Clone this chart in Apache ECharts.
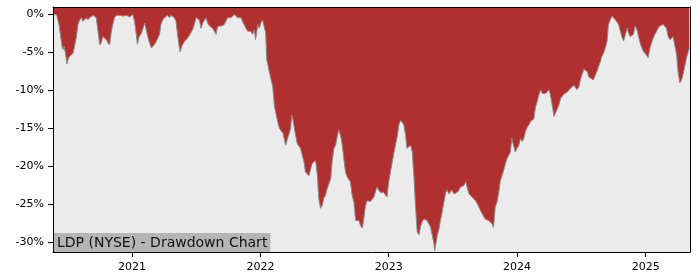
<!DOCTYPE html>
<html><head><meta charset="utf-8">
<script src="https://cdn.jsdelivr.net/npm/echarts@6/dist/echarts.min.js"></script>
<style>html,body{margin:0;padding:0;background:#fff}#c{width:700px;height:280px}</style>
</head><body><div id="c"></div>
<script>
const dates = [
"2020-05-23","2020-05-31","2020-06-04","2020-06-07","2020-06-11","2020-06-15","2020-06-18","2020-06-22","2020-06-26","2020-06-30",
"2020-07-04","2020-07-07","2020-07-11","2020-07-17","2020-07-22","2020-07-26","2020-07-31","2020-08-05","2020-08-10","2020-08-14",
"2020-08-19","2020-08-24","2020-08-28","2020-09-02","2020-09-07","2020-09-12","2020-09-16","2020-09-21","2020-09-26","2020-10-01",
"2020-10-05","2020-10-10","2020-10-15","2020-10-20","2020-10-24","2020-10-29","2020-11-03","2020-11-08","2020-11-12","2020-11-17",
"2020-11-27","2020-12-06","2020-12-16","2020-12-25","2020-12-30",
"2021-01-03","2021-01-08","2021-01-13","2021-01-16","2021-01-21","2021-01-28","2021-02-01","2021-02-06","2021-02-09","2021-02-12",
"2021-02-18","2021-02-25","2021-03-01","2021-03-09","2021-03-15","2021-03-20","2021-03-24","2021-03-29","2021-04-03","2021-04-07",
"2021-04-12","2021-04-17","2021-04-22","2021-04-26","2021-05-01","2021-05-06","2021-05-11","2021-05-15","2021-05-18","2021-05-22",
"2021-05-26","2021-05-30","2021-06-03","2021-06-08","2021-06-13","2021-06-17","2021-06-22","2021-06-27","2021-07-02","2021-07-06",
"2021-07-11","2021-07-16","2021-07-21","2021-07-26","2021-07-30","2021-08-04","2021-08-09","2021-08-13","2021-08-18","2021-08-23",
"2021-08-28","2021-08-30","2021-09-03","2021-09-08","2021-09-13","2021-09-20","2021-09-25","2021-09-30","2021-10-05","2021-10-09",
"2021-10-14","2021-10-19","2021-10-23","2021-10-28","2021-11-02","2021-11-07","2021-11-11","2021-11-16","2021-11-21","2021-11-26",
"2021-12-01","2021-12-05","2021-12-10","2021-12-15","2021-12-18","2021-12-21","2021-12-24","2021-12-29",
"2022-01-02","2022-01-07","2022-01-10","2022-01-16","2022-01-19","2022-01-27","2022-02-01","2022-02-05","2022-02-10","2022-02-15",
"2022-02-20","2022-02-24","2022-03-01","2022-03-06","2022-03-14","2022-03-18","2022-03-23","2022-03-28","2022-03-31","2022-04-03",
"2022-04-06","2022-04-11","2022-04-16","2022-04-20","2022-04-25","2022-04-30","2022-05-05","2022-05-09","2022-05-14","2022-05-19",
"2022-05-24","2022-05-28","2022-06-02","2022-06-07","2022-06-12","2022-06-16","2022-06-21","2022-06-26","2022-06-30","2022-07-05",
"2022-07-10","2022-07-15","2022-07-20","2022-07-24","2022-07-29","2022-08-03","2022-08-08","2022-08-12","2022-08-17","2022-08-22",
"2022-08-26","2022-08-31","2022-09-05","2022-09-10","2022-09-14","2022-09-19","2022-09-24","2022-09-29","2022-10-04","2022-10-08",
"2022-10-13","2022-10-18","2022-10-22","2022-10-27","2022-11-01","2022-11-06","2022-11-10","2022-11-15","2022-11-20","2022-11-24",
"2022-11-28","2022-12-03","2022-12-08","2022-12-13","2022-12-17","2022-12-22","2022-12-27",
"2023-01-01","2023-01-06","2023-01-11","2023-01-16","2023-01-20","2023-01-25","2023-01-30","2023-02-04","2023-02-08","2023-02-13",
"2023-02-18","2023-02-22","2023-02-27","2023-03-04","2023-03-09","2023-03-14","2023-03-18","2023-03-23","2023-03-28","2023-04-02",
"2023-04-06","2023-04-11","2023-04-16","2023-04-20","2023-04-25","2023-04-30","2023-05-05","2023-05-09","2023-05-12","2023-05-15",
"2023-05-19","2023-05-24","2023-05-28","2023-06-02","2023-06-07","2023-06-12","2023-06-16","2023-06-21","2023-06-26","2023-06-30",
"2023-07-05","2023-07-10","2023-07-15","2023-07-20","2023-07-24","2023-07-29","2023-08-03","2023-08-08","2023-08-12","2023-08-17",
"2023-08-22","2023-08-26","2023-08-31","2023-09-05","2023-09-10","2023-09-14","2023-09-19","2023-09-24","2023-09-29","2023-10-02",
"2023-10-12","2023-10-17","2023-10-21","2023-10-26","2023-10-29","2023-10-31","2023-11-05","2023-11-10","2023-11-14","2023-11-19",
"2023-11-24","2023-11-28","2023-12-03","2023-12-08","2023-12-13","2023-12-17","2023-12-22","2023-12-27",
"2024-01-01","2024-01-06","2024-01-11","2024-01-16","2024-01-20","2024-01-25","2024-01-30","2024-02-04","2024-02-08","2024-02-13",
"2024-02-18","2024-02-22","2024-02-27","2024-03-03","2024-03-08","2024-03-13","2024-03-17","2024-03-22","2024-03-27","2024-04-01",
"2024-04-05","2024-04-10","2024-04-15","2024-04-19","2024-04-24","2024-04-29","2024-05-04","2024-05-08","2024-05-13","2024-05-18",
"2024-05-23","2024-05-27","2024-06-01","2024-06-06","2024-06-11","2024-06-15","2024-06-20","2024-06-25","2024-06-29","2024-07-04",
"2024-07-09","2024-07-14","2024-07-19","2024-07-23","2024-07-28","2024-08-05","2024-08-10","2024-08-15","2024-08-20","2024-08-25",
"2024-08-29","2024-09-03","2024-09-08","2024-09-13","2024-09-17","2024-09-22","2024-09-27","2024-10-02","2024-10-07","2024-10-11",
"2024-10-16","2024-10-21","2024-10-25","2024-10-30","2024-11-04","2024-11-09","2024-11-13","2024-11-18","2024-11-23","2024-11-27",
"2024-12-02","2024-12-07","2024-12-12","2024-12-16","2024-12-21","2024-12-26","2024-12-30",
"2025-01-03","2025-01-08","2025-01-13","2025-01-18","2025-01-22","2025-01-27","2025-02-01","2025-02-05","2025-02-10","2025-02-15",
"2025-02-20","2025-02-24","2025-03-01","2025-03-06","2025-03-11","2025-03-16","2025-03-20","2025-03-25","2025-03-30","2025-04-03",
"2025-04-08","2025-04-13","2025-04-18","2025-04-22","2025-04-27","2025-05-02","2025-05-05"
];
const drawdown = [
0,0,0,-1.3,-2.6,-4.0,-4.6,-4.2,-5.3,-6.5,
-5.7,-5.9,-5.3,-5.1,-4.0,-3.1,-1.3,-0.7,-0.4,-0.9,
-0.7,-0.4,-0.7,-0.4,-0.4,-0.1,-0.2,-0.4,-2.2,-4.0,
-3.7,-2.9,-3.1,-3.3,-3.7,-4.0,-2.2,-1.1,-0.4,-0.1,
-0.1,-0.2,-0.1,-0.3,-0.1,
0,-0.9,-2.6,-3.9,-2.9,-2.4,-1.8,-1.1,-0.9,-2.4,
-3.5,-4.4,-4.2,-3.7,-3.1,-2.6,-1.3,-0.7,-0.4,-0.2,
-0.1,-0.4,-0.1,-0.2,-0.4,-0.9,-2.9,-4.2,-4.9,-4.2,
-4.0,-3.5,-3.5,-3.1,-2.9,-2.4,-2.0,-1.3,-0.4,-0.4,
-0.7,-1.8,-1.1,-0.7,-0.4,-1.1,-1.5,-1.3,-1.8,-2.2,
-2.6,-2.0,-1.5,-1.3,-1.5,-1.3,-1.1,-0.4,-0.2,-0.4,
-0.2,0,-0.2,-0.4,-0.2,-0.4,-0.9,-1.1,-1.8,-2.2,
-2.4,-2.2,-2.6,-2.0,-3.3,-2.6,-1.3,-1.8,
-1.1,-0.7,-0.6,-2.4,-5.9,-7.7,-7.5,-9.5,-12.1,-13.2,
-14.3,-15.0,-14.8,-15.6,-17.2,-16.5,-16.3,-15.0,-13.2,-13.7,
-14.5,-15.9,-17.0,-17.2,-17.6,-18.5,-19.4,-20.7,-20.9,-21.2,
-20.3,-19.6,-19.4,-19.2,-21.2,-24.2,-25.5,-25.1,-24.2,-23.8,
-22.9,-22.7,-21.6,-19.4,-17.6,-17.2,-15.9,-15.2,-15.9,-17.2,
-18.9,-20.7,-21.4,-21.6,-22.0,-23.8,-24.7,-27.1,-27.3,-27.1,
-27.8,-28.1,-26.9,-25.1,-24.5,-24.7,-24.6,-24.7,-24.0,-23.8,
-22.7,-22.9,-23.4,-23.6,-23.4,-23.6,-24.0,
-22.0,-20.7,-19.4,-18.1,-17.2,-16.1,-14.5,-13.9,-14.0,-14.5,
-15.9,-17.6,-17.6,-17.2,-18.1,-21.6,-25.1,-28.6,-29.0,-27.8,
-27.3,-26.9,-26.7,-27.1,-27.3,-28.0,-29.1,-30.0,-31.1,-30.2,
-29.1,-28.2,-27.1,-26.0,-24.7,-23.4,-23.1,-23.6,-23.4,-23.1,
-23.6,-23.4,-23.4,-23.1,-22.7,-22.5,-22.5,-22.0,-22.7,-23.6,
-23.8,-24.0,-24.0,-24.5,-24.9,-25.3,-25.8,-26.2,-26.4,-26.9,
-27.1,-27.3,-27.5,-28.0,-27.8,-25.3,-24.7,-23.4,-22.0,-21.2,
-20.5,-19.8,-19.0,-19.2,-18.1,-16.3,-17.2,-18.1,
-17.6,-17.2,-16.3,-16.7,-16.3,-15.4,-14.8,-14.5,-14.1,-13.9,
-13.7,-12.3,-11.5,-10.6,-9.9,-10.4,-10.6,-10.4,-10.4,-9.9,
-10.6,-11.9,-13.4,-13.0,-12.8,-11.9,-11.0,-10.8,-10.5,-10.4,
-10.2,-10.0,-9.7,-9.5,-9.3,-9.6,-9.9,-9.5,-8.6,-7.9,
-7.2,-7.3,-7.5,-8.2,-8.4,-8.6,-8.4,-7.5,-6.8,-6.2,
-5.5,-5.1,-4.4,-3.5,-1.3,-0.7,-0.2,-0.4,-0.7,-0.7,
-1.3,-2.2,-2.9,-3.5,-3.3,-1.8,-2.4,-2.9,-2.9,-2.6,
-1.5,-2.0,-2.2,-3.7,-4.4,-4.9,-5.1,
-5.3,-5.7,-4.4,-3.7,-3.1,-2.6,-2.2,-1.8,-1.5,-1.3,
-1.3,-1.4,-1.8,-2.9,-3.3,-3.1,-2.9,-3.1,-5.3,-7.5,
-9.0,-8.6,-7.7,-6.8,-5.7,-4.9,-4.4
];
const yTicks = [0, -5, -10, -15, -20, -25, -30];
const xTickYears = [2021, 2022, 2023, 2024, 2025];
const xRange = ["2020-05-21", "2025-05-07"];
const yRange = [-31.25, 1.0];
const titleText = "LDP (NYSE) - Drawdown Chart";

const toTs = s => { const p = s.split('-').map(Number); return Date.UTC(p[0], p[1]-1, p[2]); };
const seriesData = dates.map((d, i) => [toTs(d), drawdown[i]]);
const yearTs = xTickYears.map(y => Date.UTC(y, 0, 1));

const chart = echarts.init(document.getElementById('c'), null, {renderer: 'canvas'});
const font = 'DejaVu Sans';
const spine = {show: true, onZero: false, lineStyle: {color: '#000', width: 1}};
const xMin = toTs(xRange[0]), xMax = toTs(xRange[1]);
chart.setOption({
  animation: false,
  backgroundColor: '#ffffff',
  grid: {left: 53, right: 10, top: 7, bottom: 28, show: true, backgroundColor: '#ebebeb', borderWidth: 0, containLabel: false},
  xAxis: [{
    type: 'value', min: xMin, max: xMax, scale: true, z: 10,
    axisLine: spine,
    axisTick: {show: true, length: 5, lineStyle: {color: '#000'}, customValues: yearTs},
    axisLabel: {customValues: yearTs, formatter: v => String(new Date(v).getUTCFullYear()), color: '#000', fontFamily: font, fontSize: 11, margin: 10},
    splitLine: {show: false}
  }, {
    type: 'value', position: 'top', min: xMin, max: xMax, scale: true, z: 10,
    axisLine: spine, axisTick: {show: false}, axisLabel: {show: false}, splitLine: {show: false}
  }],
  yAxis: [{
    type: 'value', min: yRange[0], max: yRange[1], z: 10,
    axisLine: spine,
    axisTick: {show: true, length: 5, lineStyle: {color: '#000'}, customValues: yTicks},
    axisLabel: {customValues: yTicks, formatter: v => v + '%', color: '#000', fontFamily: font, fontSize: 11, margin: 9},
    splitLine: {show: false}
  }, {
    type: 'value', position: 'right', min: yRange[0], max: yRange[1], z: 10,
    axisLine: spine, axisTick: {show: false}, axisLabel: {show: false}, splitLine: {show: false}
  }],
  series: [{
    type: 'line', data: seriesData, symbol: 'none', smooth: false, xAxisIndex: 0, yAxisIndex: 0,
    lineStyle: {color: '#8a8a8a', width: 1},
    areaStyle: {color: '#b03030', opacity: 1, origin: 'end'}
  }],
  graphic: [{
    type: 'text', left: 54, bottom: 28, z: 100,
    style: {text: titleText, fill: '#111', font: '14px "DejaVu Sans"', backgroundColor: '#b5b5b5', padding: [3, 3, 2, 3]}
  }]
});
</script></body></html>
